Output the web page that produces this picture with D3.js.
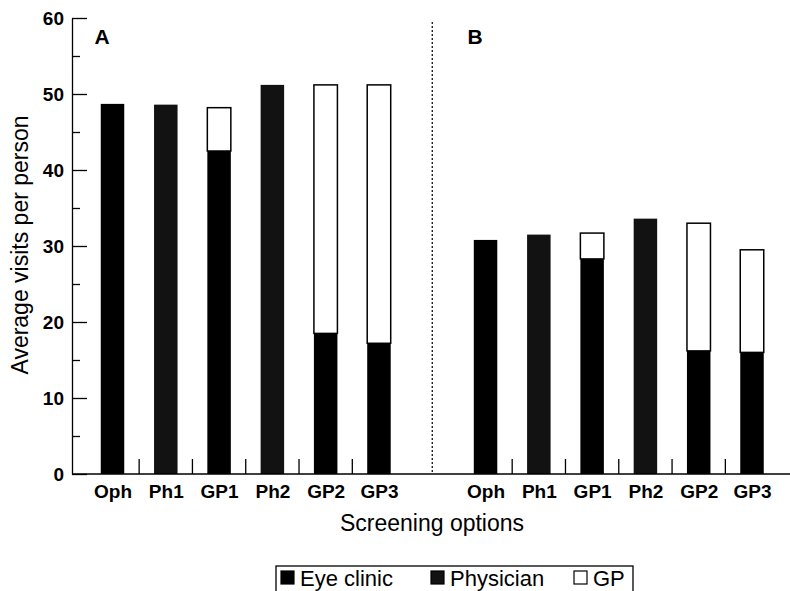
<!DOCTYPE html>
<html>
<head>
<meta charset="utf-8">
<script src="https://cdn.jsdelivr.net/npm/d3@7"></script>
<style>
  body { margin: 0; background: #fff; }
  svg { font-family: "Liberation Sans", Arial, Helvetica, sans-serif; }
</style>
</head>
<body>
<svg width="790" height="591"></svg>
<script>
// screening options, same in both panels
var categories = ["Oph", "Ph1", "GP1", "Ph2", "GP2", "GP3"];
var panels = ["A", "B"];
var seriesNames = ["Eye clinic", "Physician", "GP"];

// panel A
var eyeA  = [48.7, 0, 42.5, 0, 18.5, 17.2];
var physA = [0, 48.6, 0, 51.2, 0, 0];
var gpA   = [0, 0, 5.7, 0, 32.7, 34.0];
// panel B
var eyeB  = [30.8, 0, 28.3, 0, 16.2, 16.0];
var physB = [0, 31.5, 0, 33.6, 0, 0];
var gpB   = [0, 0, 3.4, 0, 16.8, 13.5];

var yTicks = [0, 10, 20, 30, 40, 50, 60];
var yMinor = [5, 15, 25, 35, 45, 55];

var fills = {"Eye clinic": "#000", "Physician": "#121212", "GP": "#fff"};

// one row per bar, keyed by panel + option
var rows = [];
categories.forEach(function (c, i) {
  rows.push({key: "A-" + c, cat: c, "Eye clinic": eyeA[i], "Physician": physA[i], "GP": gpA[i]});
});
categories.forEach(function (c, i) {
  rows.push({key: "B-" + c, cat: c, "Eye clinic": eyeB[i], "Physician": physB[i], "GP": gpB[i]});
});

var slots = categories.map(d => "A-" + d).concat(["gap"], categories.map(d => "B-" + d));

var svg = d3.select("svg");

var x = d3.scalePoint().domain(slots).range([112.5, 752]);
var y = d3.scaleLinear().domain([0, 60]).range([474, 18]);
var barW = 23.5;
var step = x.step();

var stack = d3.stack().keys(seriesNames);
var layers = stack(rows);

svg.append("g")
  .selectAll("g")
  .data(layers)
  .enter()
  .append("g")
  .attr("fill", d => fills[d.key])
  .attr("stroke", d => d.key === "GP" ? "#000" : "none")
  .attr("stroke-width", 1.5)
  .selectAll("rect")
  .data(d => d.filter(s => s[1] - s[0] > 0))
  .enter()
  .append("rect")
  .attr("x", d => x(d.data.key) - barW / 2)
  .attr("width", barW)
  .attr("y", d => y(d[1]))
  .attr("height", d => y(d[0]) - y(d[1]));

// y axis, ticks pointing inward
var yAxis = d3.axisLeft(y)
  .tickValues(yTicks)
  .tickSizeInner(-15)
  .tickSizeOuter(0)
  .tickPadding(8);

var gy = svg.append("g")
  .attr("transform", "translate(72,0)")
  .call(yAxis);
gy.selectAll("text")
  .attr("font-size", 19)
  .attr("font-weight", "bold")
  .attr("fill", "#000");
gy.selectAll("line, path").attr("stroke", "#000").attr("stroke-width", 1.3);

svg.append("g")
  .attr("transform", "translate(72,0)")
  .call(d3.axisLeft(y).tickValues(yMinor).tickSize(-8).tickFormat(""))
  .call(g => g.select(".domain").remove())
  .selectAll("line").attr("stroke", "#000").attr("stroke-width", 1.3);

// x axis baseline and option labels
svg.append("line")
  .attr("x1", 72).attr("x2", 790)
  .attr("y1", y(0)).attr("y2", y(0))
  .attr("stroke", "#000").attr("stroke-width", 1.3);

var gx = svg.append("g")
  .attr("transform", "translate(0," + y(0) + ")")
  .call(d3.axisBottom(x).tickSize(0).tickPadding(11)
    .tickFormat(d => d === "gap" ? "" : d.slice(2)));
gx.select(".domain").remove();
gx.selectAll("text")
  .attr("font-size", 19)
  .attr("font-weight", "bold")
  .attr("fill", "#000");

// separator ticks between bars within each panel
var seps = slots.filter((d, i) => d !== "gap" && !d.endsWith("GP3"));
svg.append("g")
  .selectAll("line")
  .data(seps)
  .enter()
  .append("line")
  .attr("x1", d => x(d) + step / 2)
  .attr("x2", d => x(d) + step / 2)
  .attr("y1", y(0))
  .attr("y2", y(0) - 15)
  .attr("stroke", "#000")
  .attr("stroke-width", 1.3);

// dotted divider between panels
svg.append("line")
  .attr("x1", x("gap")).attr("x2", x("gap"))
  .attr("y1", 22).attr("y2", y(0))
  .attr("stroke", "#000")
  .attr("stroke-width", 1.2)
  .attr("stroke-dasharray", "2,2");

// panel letters
svg.append("g")
  .selectAll("text")
  .data(panels)
  .enter()
  .append("text")
  .attr("x", d => x(d + "-Oph") - 18)
  .attr("y", 44)
  .attr("font-size", 21)
  .attr("font-weight", "bold")
  .text(d => d);

// axis titles
svg.append("text")
  .attr("transform", "translate(28,245) rotate(-90)")
  .attr("text-anchor", "middle")
  .attr("font-size", 23)
  .text("Average visits per person");

svg.append("text")
  .attr("x", 432)
  .attr("y", 531)
  .attr("text-anchor", "middle")
  .attr("font-size", 23)
  .text("Screening options");

// legend
var legend = svg.append("g");
legend.append("rect")
  .attr("x", 276).attr("y", 566)
  .attr("width", 357).attr("height", 40)
  .attr("fill", "none").attr("stroke", "#000").attr("stroke-width", 1.3);

var legX = [281, 431, 574];
var items = legend.selectAll("g.item")
  .data(seriesNames)
  .enter()
  .append("g")
  .attr("class", "item")
  .attr("transform", (d, i) => "translate(" + legX[i] + ",0)");
items.append("rect")
  .attr("x", 0).attr("y", 571)
  .attr("width", 13).attr("height", 13)
  .attr("fill", d => fills[d])
  .attr("stroke", "#000").attr("stroke-width", 1.2);
items.append("text")
  .attr("x", 19).attr("y", 586)
  .attr("font-size", 22)
  .text(d => d);
</script>
</body>
</html>
